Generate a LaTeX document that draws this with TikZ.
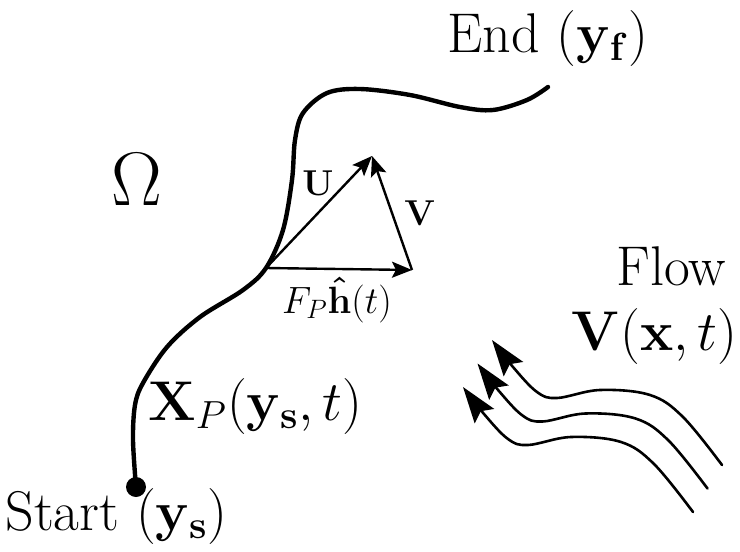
\documentclass[tikz,border=0pt]{standalone}
\usepackage{fix-cm}
\usepackage{amsmath}
\usetikzlibrary{arrows.meta}

\tikzset{
  trajline/.style={line width=2.2pt, line cap=round},
  vecline/.style={line width=1.2pt, -{Stealth[length=10pt,width=8pt,inset=2pt]}},
  flowline/.style={line width=1.3pt, line cap=round, -{Stealth[length=18pt,width=12pt,inset=3pt]}},
  biglbl/.style={inner sep=0pt, font=\fontsize{28}{32}\selectfont},
  smalllbl/.style={inner sep=0pt, font=\fontsize{18}{22}\selectfont},
}

\begin{document}
\begin{tikzpicture}[x=0.5pt,y=-0.5pt]
        \useasboundingbox (0,0) rectangle (740,552);
        % trajectory from start to end
        \coordinate (ys) at (136,487);
        \coordinate (o) at (266,268);
        \draw[trajline] plot[smooth, tension=0.55] coordinates {(136,487) (133,440) (135,405) (143,383) (167,347) (200,317) (243,290) (266,268) (283,230) (292,180) (295,140) (303,113) (327,93) (360,89) (410,95) (460,107) (493,110) (527,100) (548,87)};
        \fill (ys) circle (10);
        % velocity triangle
        \coordinate (ftip) at (412,270);
        \coordinate (utip) at (372,156);
        \draw[vecline] (o) -- (utip);
        \draw[vecline] (o) -- (ftip);
        \draw[vecline] (ftip) -- (utip);
        \node[smalllbl] (ulbl) at (318,183) {$\mathbf{U}$};
        \node[smalllbl] (vlbl) at (420,213) {$\mathbf{V}$};
        \node[smalllbl, font=\fontsize{19}{22}\selectfont, anchor=base] (flbl) at (337,313) {$F_P\mathbf{\hat{h}}(t)$};
        % labels
        \node[biglbl, anchor=base west] (endlbl) at (447,52) {End $(\mathbf{y_f})$};
        \node[biglbl, anchor=base west] (startlbl) at (5,530) {Start $(\mathbf{y_s})$};
        \node[biglbl, anchor=base west] (xplbl) at (148,420) {$\mathbf{X}_P(\mathbf{y_s},t)$};
        \node[inner sep=0pt, font=\fontsize{38}{44}\selectfont, anchor=base] (omega) at (137,205) {$\Omega$};
        \node[biglbl, anchor=base west] (flowlbl) at (616,285) {Flow};
        \node[biglbl, anchor=base east] (vxlbl) at (738,350) {$\mathbf{V}(\mathbf{x},t)$};
        % streamlines
        \foreach \k in {0,1,2}
          \draw[flowline, shift={(-14.5*\k,23.5*\k)}] plot[smooth, tension=0.6] coordinates {(722,465) (683,417) (650,395) (600,390) (557,398) (537,392) (513,367) (492,340)};
    \end{tikzpicture}
\end{document}
